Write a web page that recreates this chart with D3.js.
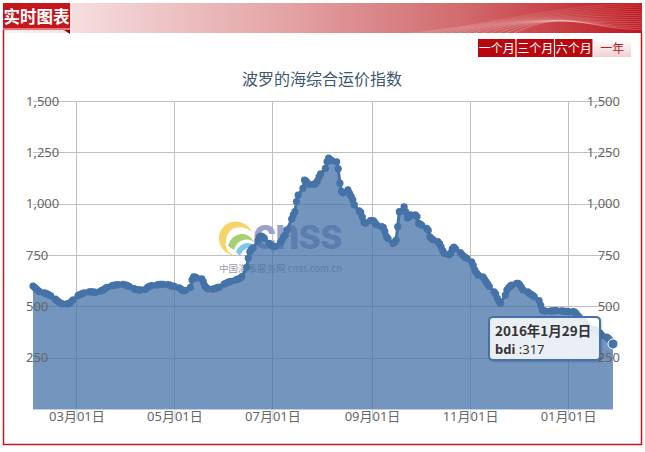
<!DOCTYPE html>
<html>
<head>
<meta charset="utf-8">
<script src="https://cdn.jsdelivr.net/npm/d3@7"></script>
<style>
  body { margin: 0; background: #fff; }
  svg { display: block; font-family: "Noto Sans", "Noto Sans CJK SC", sans-serif; }
</style>
</head>
<body>
<div id="chart"></div>
<script>
// BDI closes, one value per business day of each month
const feb2015 = [599, 592, 585, 578, 572, 566, 563, 560, 556, 551, 535, 528, 522, 516, 513, 512, 513, 516, 524, 532];
const mar2015 = [552, 557, 560, 563, 566, 570, 571, 570, 569, 568, 574, 578, 581, 587, 592, 600, 602, 604, 605, 606, 607, 605];
const apr2015 = [604, 600, 596, 586, 582, 580, 580, 580, 583, 590, 596, 599, 601, 604, 606, 607, 607, 607, 606, 604, 600, 598];
const may2015 = [597, 590, 585, 578, 576, 578, 592, 630, 644, 642, 638, 634, 620, 600, 590, 585, 584, 586, 589, 592, 594];
const jun2015 = [608, 612, 616, 619, 622, 628, 631, 634, 638, 645, 690, 735, 766, 777, 785, 820, 839, 842, 838, 831, 807, 800];
const jul2015 = [793, 790, 792, 812, 822, 838, 847, 870, 925, 945, 961, 1010, 1042, 1075, 1115, 1110, 1099, 1094, 1095, 1099, 1110, 1130, 1145];
const aug2015 = [1172, 1205, 1222, 1215, 1210, 1204, 1170, 1100, 1060, 1053, 1067, 1050, 1036, 1018, 994, 965, 958, 935, 910, 905, 918];
const sep2015 = [917, 916, 905, 896, 888, 885, 865, 840, 830, 807, 812, 823, 888, 961, 985, 960, 930, 935, 945, 945, 937, 904];
const oct2015 = [900, 895, 880, 870, 839, 830, 825, 815, 805, 790, 772, 758, 750, 760, 780, 788, 780, 762, 752, 745, 738, 734];
const nov2015 = [717, 700, 677, 663, 653, 644, 632, 620, 608, 596, 571, 560, 539, 525, 515, 555, 580, 590, 598, 604, 612];
const dec2015 = [612, 605, 592, 580, 570, 563, 558, 553, 547, 528, 505, 482, 478, 477, 477, 478, 478, 479, 479, 478, 477, 476, 476];
const jan2016 = [475, 474, 473, 466, 455, 448, 425, 415, 405, 398, 392, 385, 380, 375, 368, 360, 350, 345, 337, 325, 317];

const months = [
  [2015, 1, feb2015], [2015, 2, mar2015], [2015, 3, apr2015], [2015, 4, may2015],
  [2015, 5, jun2015], [2015, 6, jul2015], [2015, 7, aug2015], [2015, 8, sep2015],
  [2015, 9, oct2015], [2015, 10, nov2015], [2015, 11, dec2015], [2016, 0, jan2016]
];

const yTicks = [250, 500, 750, 1000, 1250, 1500];
const xTicks = ["2015-03-01", "2015-05-01", "2015-07-01", "2015-09-01", "2015-11-01", "2016-01-01"];
const rangeButtons = ["一个月", "三个月", "六个月", "一年"];
const chartTitle = "波罗的海综合运价指数";
const seriesName = "bdi";
const headerLabel = "实时图表";

function businessDays(year, month) {
  const days = [];
  const d = new Date(year, month, 1);
  while (d.getMonth() === month) {
    const wd = d.getDay();
    if (wd !== 0 && wd !== 6) days.push(new Date(d));
    d.setDate(d.getDate() + 1);
  }
  return days;
}

const data = [];
months.forEach(([yr, mo, vals]) => {
  const days = businessDays(yr, mo);
  vals.forEach((v, i) => data.push({ date: days[i], value: v }));
});

const W = 645, H = 452;
const plot = { left: 33, right: 613, top: 101, bottom: 409 };
const blue = '#4572A7';

const svg = d3.select('#chart').append('svg').attr('width', W).attr('height', H);
const defs = svg.append('defs');

// header banner
const bannerGrad = defs.append('linearGradient').attr('id', 'banner');
[[0, '#fdf4f4'], [0.15, '#f3d6d7'], [0.45, '#e3a2a4'], [0.72, '#d16a6d'], [0.9, '#c6373c'], [1, '#bd161d']]
  .forEach(([o, c]) => bannerGrad.append('stop').attr('offset', o).attr('stop-color', c));
svg.append('rect').attr('x', 3).attr('y', 3).attr('width', 639).attr('height', 30).attr('fill', 'url(#banner)');

const waves = svg.append('g').attr('fill', 'none').attr('stroke', '#fff').attr('stroke-width', 0.6);
d3.range(14).forEach(i => {
  waves.append('path')
    .attr('opacity', 0.2 + 0.02 * i)
    .attr('d', `M${410 + i * 8},33 C${490 + i * 6},${26 - i * 1.5} ${540 + i * 4},${6 + i * 2} ${645},${3 + i * 2}`);
});

svg.append('rect').attr('x', 3).attr('y', 3).attr('width', 67).attr('height', 27).attr('fill', '#c4161c');
svg.append('rect').attr('x', 3).attr('y', 28).attr('width', 67).attr('height', 2).attr('fill', '#e6787c');
svg.append('path').attr('d', 'M64,30 L70,30 L70,34 Z').attr('fill', '#7d0a0e');
svg.append('text').attr('x', 36.5).attr('y', 23).attr('text-anchor', 'middle')
  .attr('font-family', '"Noto Sans CJK SC"').attr('font-weight', 'bold').attr('font-size', 16.5)
  .attr('fill', '#fff').text(headerLabel);

// frame
svg.append('path').attr('d', 'M3.5,30 V444.5 H641.5 V33')
  .attr('fill', 'none').attr('stroke', '#c4161c').attr('stroke-width', 1.5);

// range buttons
const btnGrad = defs.append('linearGradient').attr('id', 'btn').attr('x2', 0).attr('y2', 1);
btnGrad.append('stop').attr('offset', 0).attr('stop-color', '#ffffff');
btnGrad.append('stop').attr('offset', 1).attr('stop-color', '#f0d0d2');
const btnX = d3.scaleBand().domain(rangeButtons).range([478, 631]).paddingInner(0.03);
const btns = svg.append('g').selectAll('g').data(rangeButtons).join('g');
btns.append('rect')
  .attr('x', d => btnX(d)).attr('y', 39).attr('width', btnX.bandwidth()).attr('height', 18)
  .attr('fill', (d, i) => i === 3 ? 'url(#btn)' : '#b8070e');
btns.append('text')
  .attr('x', d => btnX(d) + btnX.bandwidth() / 2).attr('y', 53).attr('text-anchor', 'middle')
  .attr('font-family', '"Noto Sans CJK SC"').attr('font-size', 12)
  .attr('fill', (d, i) => i === 3 ? '#c4161c' : '#fff').text(d => d);

// title
svg.append('text').attr('x', 322).attr('y', 85).attr('text-anchor', 'middle')
  .attr('font-family', '"Noto Sans CJK SC"').attr('font-size', 16).attr('fill', '#3E576F')
  .text(chartTitle);

const x = d3.scaleTime().domain(d3.extent(data, d => d.date)).range([plot.left, plot.right]);
const y = d3.scaleLinear().domain([0, 1500]).range([plot.bottom, plot.top]);
const tickDates = xTicks.map(d3.timeParse('%Y-%m-%d'));

// grid
const grid = svg.append('g').attr('stroke', '#C0C0C0').attr('stroke-width', 1);
grid.selectAll('.h').data(yTicks).join('line')
  .attr('x1', plot.left).attr('x2', plot.right)
  .attr('y1', d => Math.round(y(d)) + 0.5).attr('y2', d => Math.round(y(d)) + 0.5);
grid.selectAll('.v').data(tickDates).join('line')
  .attr('y1', plot.top).attr('y2', plot.bottom)
  .attr('x1', d => Math.round(x(d)) + 0.5).attr('x2', d => Math.round(x(d)) + 0.5);

// watermark (sits behind the series)
const wm = svg.append('g');
wm.append('path').attr('d', 'M219,236 C222,219 244,216 252,232 C242,224 228,226 226,240 C224,248 229,254 236,256 C226,255 218,247 219,236 Z').attr('fill', '#f7d468');
wm.append('path').attr('d', 'M228,246 C232,232 248,230 254,242 C246,237 237,240 234,250 Z').attr('fill', '#a6d172');
wm.append('path').attr('d', 'M236,252 C240,242 252,240 256,248 C249,246 242,249 240,256 Z').attr('fill', '#7dc7ea');
wm.append('text').attr('x', 253).attr('y', 249).attr('font-family', 'Roboto').attr('font-weight', 'bold')
  .attr('font-size', 44).attr('letter-spacing', -1).attr('fill', '#9aa1cc').text('cnss');
wm.append('text').attr('x', 219).attr('y', 272).attr('font-family', '"Noto Sans CJK SC"')
  .attr('font-size', 9.5).attr('fill', '#9a9cae').text('中国海事服务网 cnss.com.cn');

// series
const area = d3.area().x(d => x(d.date)).y0(plot.bottom).y1(d => y(d.value));
const line = d3.line().x(d => x(d.date)).y(d => y(d.value));
svg.append('path').datum(data).attr('d', area).attr('fill', blue).attr('fill-opacity', 0.75);
svg.append('path').datum(data).attr('d', line).attr('fill', 'none')
  .attr('stroke', blue).attr('stroke-width', 3).attr('stroke-linejoin', 'round');
svg.append('g').selectAll('circle').data(data).join('circle')
  .attr('cx', d => x(d.date)).attr('cy', d => y(d.value)).attr('r', 3.6).attr('fill', blue);

// axes
const fmt = d3.format(',');
const styleAxis = g => {
  g.select('.domain').remove();
  g.selectAll('text').attr('font-size', 13).attr('fill', '#666')
    .attr('font-family', '"Noto Sans", "Noto Sans CJK SC", sans-serif');
};
svg.append('g').attr('transform', `translate(${plot.left},0)`)
  .call(d3.axisLeft(y).tickValues(yTicks).tickSize(0).tickFormat(fmt))
  .call(styleAxis)
  .call(g => g.selectAll('text').attr('x', -7).attr('text-anchor', 'start'));
svg.append('g').attr('transform', `translate(${plot.right},0)`)
  .call(d3.axisRight(y).tickValues(yTicks).tickSize(0).tickFormat(fmt))
  .call(styleAxis)
  .call(g => g.selectAll('text').attr('x', 7).attr('text-anchor', 'end'));
svg.append('g').attr('transform', `translate(0,${plot.bottom})`)
  .call(d3.axisBottom(x).tickValues(tickDates).tickSize(11).tickPadding(-8).tickFormat(d3.timeFormat('%m月%d日')))
  .call(styleAxis)
  .call(g => g.selectAll('.tick line').attr('stroke', '#C0D0E0'));
svg.append('line').attr('x1', plot.left).attr('x2', plot.right)
  .attr('y1', plot.bottom + 0.5).attr('y2', plot.bottom + 0.5).attr('stroke', '#C0D0E0');

// hovered point + tooltip
const last = data[data.length - 1];
const px = x(last.date), py = y(last.value);
svg.append('circle').attr('cx', px).attr('cy', py).attr('r', 5)
  .attr('fill', blue).attr('stroke', '#fff').attr('stroke-width', 1);

const tipX = px - 124, tipY = py - 27;
const tip = svg.append('g').attr('transform', `translate(${tipX},${tipY})`);
tip.append('rect').attr('x', 1).attr('y', 1).attr('width', 111).attr('height', 43).attr('rx', 4)
  .attr('fill', 'none').attr('stroke', '#000').attr('stroke-opacity', 0.12).attr('stroke-width', 3);
tip.append('rect').attr('width', 111).attr('height', 43).attr('rx', 4)
  .attr('fill', '#fff').attr('fill-opacity', 0.85).attr('stroke', blue).attr('stroke-width', 2);
tip.append('text').attr('x', 6).attr('y', 19).attr('font-family', '"Noto Sans CJK SC", sans-serif')
  .attr('font-size', 13.5).attr('font-weight', 'bold').attr('fill', '#333')
  .text(d3.timeFormat('%Y年%-m月%-d日')(last.date));
const t2 = tip.append('text').attr('x', 6).attr('y', 37.5).attr('font-family', '"Noto Sans", sans-serif')
  .attr('font-size', 13).attr('fill', '#333');
t2.append('tspan').attr('font-weight', 'bold').text(seriesName);
t2.append('tspan').text(' :' + last.value);
</script>
</body>
</html>
